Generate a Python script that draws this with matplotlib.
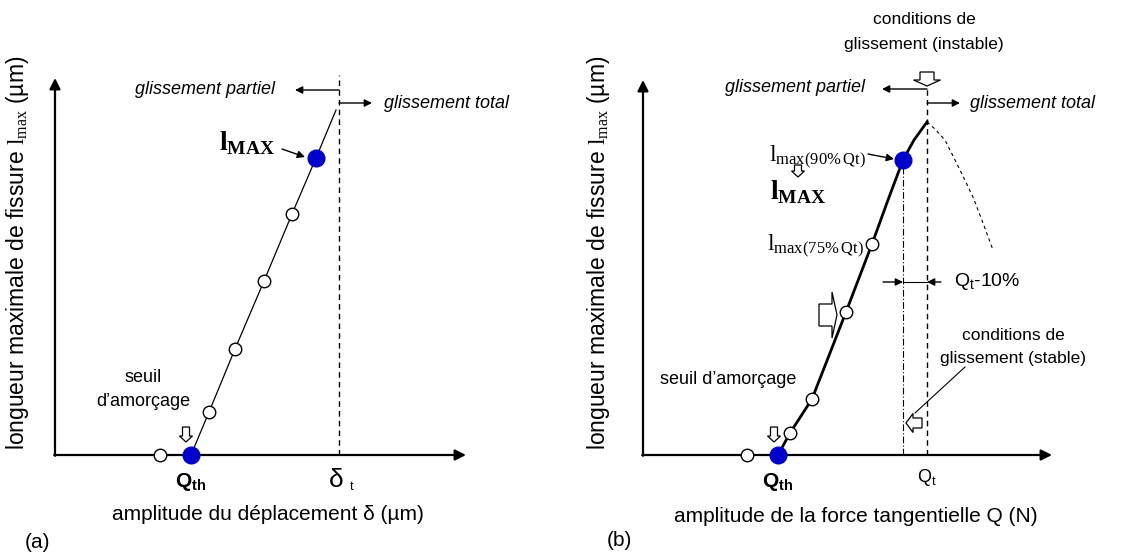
import matplotlib
matplotlib.use('Agg')
import matplotlib.pyplot as plt
from matplotlib.patches import FancyArrow

plt.rcParams['font.family'] = ['Liberation Sans', 'DejaVu Sans']
plt.rcParams['mathtext.fontset'] = 'custom'
plt.rcParams['mathtext.rm'] = 'Liberation Serif'
plt.rcParams['mathtext.bf'] = 'Liberation Serif:bold'
plt.rcParams['mathtext.sf'] = 'Liberation Sans'
plt.rcParams['mathtext.it'] = 'Liberation Sans:bold'

# ---------------- data (schematic units) ----------------
# panel (a): crack length vs displacement amplitude
a_disp = [105, 136, 154, 180, 209, 237, 261, 281]
a_len = [0, 0, 43, 106, 174, 241, 297, 345]
a_kind = ['open', 'th', 'open', 'open', 'open', 'open', 'max', 'end']
a_delta_t = 284

# panel (b): crack length vs tangential force amplitude
b_force = [104, 135, 147, 169, 203, 229, 245, 260, 271, 284]
b_len = [0, 0, 22, 56, 143, 211, 255, 295, 315, 333]
b_kind = ['open', 'th', 'open', 'open', 'open', 'open', 'curve', 'max', 'curve', 'end']
b_Qt = 284
b_Q90 = 260
b_unst_x = [284, 292, 302, 316, 330, 340, 350]
b_unst_y = [333, 326, 315, 287, 258, 232, 205]

BLUE = '#0000cc'
W, H = 1131, 555
fig = plt.figure(figsize=(W / 100, H / 100), dpi=100)


def make_ax(left_px, right_px, ox, oy):
    ax = fig.add_axes([left_px / W, 0, (right_px - left_px) / W, 1])
    ax.set_xlim(left_px - ox, right_px - ox)
    ax.set_ylim(oy - H, oy)
    ax.axis('off')
    return ax


def axis_arrows(ax, xmax, ymax):
    ap = dict(arrowstyle='-|>', lw=1.6, color='k', mutation_scale=16,
              shrinkA=0, shrinkB=0)
    ax.annotate('', xy=(xmax, 0), xytext=(-0.8, 0), arrowprops=ap)
    ax.annotate('', xy=(0, ymax), xytext=(0, -0.8), arrowprops=ap)


def harrow(ax, x0, x1, y, lw=1.0):
    ax.annotate('', xy=(x1, y), xytext=(x0, y),
                arrowprops=dict(arrowstyle='-|>', lw=lw, color='k',
                                mutation_scale=11, shrinkA=0, shrinkB=0))


def block_arrow(ax, x, y, dx, dy, width, head_width, head_length):
    ax.add_patch(FancyArrow(x, y, dx, dy, width=width, head_width=head_width,
                            head_length=head_length, length_includes_head=True,
                            facecolor='white', edgecolor='k', lw=0.9, zorder=5))


def markers(ax, xs, ys, kinds):
    ox = [x for x, k in zip(xs, kinds) if k == 'open']
    oy = [y for y, k in zip(ys, kinds) if k == 'open']
    ax.plot(ox, oy, 'o', ms=9, mfc='white', mec='k', mew=1.0, zorder=6)
    bx = [x for x, k in zip(xs, kinds) if k in ('th', 'max')]
    by = [y for y, k in zip(ys, kinds) if k in ('th', 'max')]
    ax.plot(bx, by, 'o', ms=12, mfc=BLUE, mec=BLUE, zorder=7)


YLABEL = 'longueur maximale de fissure $\\mathrm{l}_{\\mathrm{max}}$ (µm)'

# ================= panel (a) =================
ax = make_ax(0, 565.5, 55, 455)
axis_arrows(ax, 411, 377)
ax.plot(a_disp[1:], a_len[1:], color='k', lw=0.9, zorder=4)
markers(ax, a_disp, a_len, a_kind)
ax.plot([a_delta_t, a_delta_t], [0, 380], color='k', lw=1.0, ls=(0, (4, 3)))

ax.text(220, 366, 'glissement partiel', fontsize=13, style='italic', ha='right', va='center')
harrow(ax, a_delta_t, 240, 365)
harrow(ax, a_delta_t, 317, 352)
ax.text(329, 352, 'glissement total', fontsize=13, style='italic', ha='left', va='center')

ax.text(192, 312, r'$\mathbf{l}_{\mathbf{MAX}}$', fontsize=20, ha='center', va='center')
ax.annotate('', xy=(250, 298), xytext=(227, 306),
            arrowprops=dict(arrowstyle='-|>', lw=1.0, color='k', mutation_scale=11,
                            shrinkA=0, shrinkB=0))

ax.text(88, 78, 'seuil', fontsize=13, ha='center', va='center')
ax.text(88, 54, 'd\u2019amorçage', fontsize=13, ha='center', va='center')
block_arrow(ax, 131, 28, 0, -15, 7, 13, 6)

ax.text(136, -27, r'$\mathit{Q}_{\mathit{th}}$', fontsize=15, ha='center', va='center')
ax.text(281, -25, 'δ', fontsize=19, ha='center', va='center')
ax.text(297, -32, 't', fontsize=9, ha='center', va='center')
ax.text(213, -60, 'amplitude du déplacement δ (µm)', fontsize=15, ha='center', va='center')
ax.text(-18, -87, '(a)', fontsize=15, ha='center', va='center')
ax.text(-37, 202, YLABEL, fontsize=16.5, rotation=90, ha='center', va='center')

# ================= panel (b) =================
ax = make_ax(565.5, 1131, 643, 455)
axis_arrows(ax, 409, 375)
ax.plot(b_force[1:], b_len[1:], color='k', lw=2.0, zorder=4, solid_joinstyle='round')
markers(ax, b_force, b_len, b_kind)
ax.plot(b_unst_x, b_unst_y, color='k', lw=0.8, ls=(0, (3, 3)))
ax.plot([b_Qt, b_Qt], [0, 369], color='k', lw=1.0, ls=(0, (4, 3)))
ax.plot([b_Q90, b_Q90], [0, 295], color='k', lw=0.8, ls=(0, (6, 2, 1, 2)))

ax.text(281, 435, 'conditions de', fontsize=12.5, ha='center', va='center')
ax.text(281, 410, 'glissement (instable)', fontsize=12.5, ha='center', va='center')
block_arrow(ax, b_Qt, 383, 0, -14, 14, 27, 6)

ax.text(222, 367, 'glissement partiel', fontsize=13, style='italic', ha='right', va='center')
harrow(ax, b_Qt, 239, 366)
harrow(ax, b_Qt, 317, 352)
ax.text(327, 352, 'glissement total', fontsize=13, style='italic', ha='left', va='center')

ax.text(223, 298, r'$\mathrm{l}_{\mathrm{max(90\%\,Qt)}}$', fontsize=17, ha='right', va='center')
ax.annotate('', xy=(251, 296), xytext=(225, 301),
            arrowprops=dict(arrowstyle='-|>', lw=1.0, color='k', mutation_scale=11,
                            shrinkA=0, shrinkB=0))
block_arrow(ax, 155, 290, 0, -12, 7, 13, 6)
ax.text(155, 263, r'$\mathbf{l}_{\mathbf{MAX}}$', fontsize=20, ha='center', va='center')

ax.text(221, 209, r'$\mathrm{l}_{\mathrm{max(75\%\,Qt)}}$', fontsize=17, ha='right', va='center')
block_arrow(ax, 176, 140, 18, 0, 22, 46, 5)

harrow(ax, 240, b_Q90, 173)
harrow(ax, 298, b_Qt, 173)
ax.plot([b_Q90, b_Qt], [173, 173], color='k', lw=0.8)
ax.text(311, 173, r'$\mathsf{Q}_{\mathsf{t}}$-10%', fontsize=14, ha='left', va='center')

ax.text(370, 120, 'conditions de', fontsize=12.5, ha='center', va='center')
ax.text(370, 96, 'glissement (stable)', fontsize=12.5, ha='center', va='center')
ax.plot([322, 272], [88, 42], color='k', lw=0.8)
block_arrow(ax, 279, 32, -16, 0, 10, 19, 7)

ax.text(85, 75, 'seuil d\u2019amorçage', fontsize=13, ha='center', va='center')
block_arrow(ax, 131, 28, 0, -15, 7, 13, 6)

ax.text(135, -27, r'$\mathit{Q}_{\mathit{th}}$', fontsize=15, ha='center', va='center')
ax.text(b_Qt, -22, r'$\mathsf{Q}_{\mathsf{t}}$', fontsize=13, ha='center', va='center')
ax.text(213, -62, 'amplitude de la force tangentielle Q (N)', fontsize=15, ha='center', va='center')
ax.text(-24, -85, '(b)', fontsize=15, ha='center', va='center')
ax.text(-45, 202, YLABEL, fontsize=16.5, rotation=90, ha='center', va='center')

fig.savefig('out.png', dpi=100)
